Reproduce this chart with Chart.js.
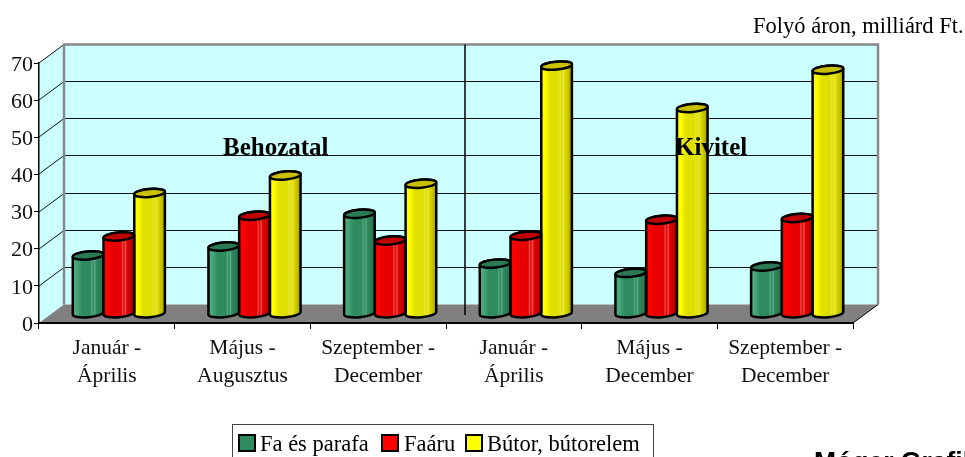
<!DOCTYPE html>
<html>
<head>
<meta charset="utf-8">
<title>Fa és bútor</title>
<script src="https://cdn.jsdelivr.net/npm/chart.js@4"></script>
<style>
html, body { margin: 0; padding: 0; background: #fff; overflow: hidden; }
#wrap { width: 965px; height: 457px; }
</style>
</head>
<body>
<div id="wrap"><canvas id="myChart" width="965" height="457"></canvas></div>
<script>
"use strict";
const categories = [
    ["Január -", "Április"],
    ["Május -", "Augusztus"],
    ["Szeptember -", "December"],
    ["Január -", "Április"],
    ["Május -", "December"],
    ["Szeptember -", "December"]
];
const faParafa = [15.7, 18.1, 26.9, 13.5, 11, 12.7];
const faaru = [20.8, 26.4, 19.7, 21, 25.3, 25.8];
const butor = [32.5, 37.2, 35, 66.8, 55.4, 65.7];
const seriesNames = ["Fa és parafa", "Faáru", "Bútor, bútorelem"];
const barColors = ["#2e8b5f", "#ff0000", "#ffff00"];
const yTicks = [0, 10, 20, 30, 40, 50, 60, 70];

const SERIF = '"Liberation Serif", "Times New Roman", serif';
// depth of the fake 3D box, in pixels
const DX = 25;
const DY = -18.5;

// stops for the banded look of the cylinders
const shades = {
    "#2e8b5f": { left: "#4aa87c", mid: "#2e8b5f", streak: "#5aa983", right: "#2a6a4c", cap: "#2b7a55" },
    "#ff0000": { left: "#ff0000", mid: "#e80000", streak: "#e85050", right: "#a80000", cap: "#c00000" },
    "#ffff00": { left: "#ffff00", mid: "#e0e000", streak: "#e6e640", right: "#a8a000", cap: "#c8c000" }
};

function drawCylinder(ctx, x, top, base, w, color) {
    const rx = w / 2;
    const ry = 4;
    const rot = -0.09;
    const s = shades[color];
    const g = ctx.createLinearGradient(x - rx, 0, x + rx, 0);
    g.addColorStop(0, s.left);
    g.addColorStop(0.12, s.left);
    g.addColorStop(0.3, s.mid);
    g.addColorStop(0.58, s.mid);
    g.addColorStop(0.62, s.streak);
    g.addColorStop(0.66, s.mid);
    g.addColorStop(0.72, s.streak);
    g.addColorStop(0.76, s.mid);
    g.addColorStop(1, s.right);
    ctx.beginPath();
    ctx.ellipse(x, base, rx, ry, rot, 0, Math.PI);
    ctx.ellipse(x, top, rx, ry, rot, Math.PI, Math.PI * 2);
    ctx.closePath();
    ctx.fillStyle = g;
    ctx.fill();
    ctx.lineWidth = 2.5;
    ctx.strokeStyle = "#000";
    ctx.stroke();
    ctx.beginPath();
    ctx.ellipse(x, top, rx, ry, rot, 0, Math.PI * 2);
    ctx.fillStyle = s.cap;
    ctx.fill();
    ctx.stroke();
}

const box3d = {
    id: "box3d",
    beforeDraw(chart) {
        const ctx = chart.ctx;
        const a = chart.chartArea;
        const y = chart.scales.y;
        ctx.save();
        // side wall
        ctx.fillStyle = "#ccffff";
        ctx.beginPath();
        ctx.moveTo(a.left, a.top);
        ctx.lineTo(a.left + DX, a.top + DY);
        ctx.lineTo(a.left + DX, a.bottom + DY);
        ctx.lineTo(a.left, a.bottom);
        ctx.closePath();
        ctx.fill();
        // back wall
        ctx.fillRect(a.left + DX, a.top + DY, a.right - a.left, a.bottom - a.top);
        // floor
        ctx.fillStyle = "#808080";
        ctx.beginPath();
        ctx.moveTo(a.left, a.bottom);
        ctx.lineTo(a.left + DX, a.bottom + DY);
        ctx.lineTo(a.right + DX, a.bottom + DY);
        ctx.lineTo(a.right, a.bottom);
        ctx.closePath();
        ctx.fill();
        // grid lines, round the corner of the box
        ctx.strokeStyle = "#111";
        ctx.lineWidth = 1;
        yTicks.forEach((t) => {
            if (t === 0) return;
            const py = Math.round(y.getPixelForValue(t));
            ctx.beginPath();
            ctx.moveTo(a.left, py);
            ctx.lineTo(a.left + DX, py + DY);
            if (t < 70) ctx.lineTo(a.right + DX, py + DY);
            ctx.stroke();
        });
        // grey frame of the back wall
        ctx.strokeStyle = "#888";
        ctx.lineWidth = 2.5;
        ctx.beginPath();
        ctx.moveTo(a.left + DX, a.bottom + DY);
        ctx.lineTo(a.left + DX, a.top + DY);
        ctx.lineTo(a.right + DX, a.top + DY);
        ctx.lineTo(a.right + DX, a.bottom + DY);
        ctx.stroke();
        // right edge of the floor
        ctx.strokeStyle = "#000";
        ctx.lineWidth = 1;
        ctx.beginPath();
        ctx.moveTo(a.right, a.bottom);
        ctx.lineTo(a.right + DX, a.bottom + DY);
        ctx.stroke();
        // Behozatal / Kivitel divider
        ctx.lineWidth = 1.5;
        ctx.beginPath();
        ctx.moveTo(465, a.top + DY);
        ctx.lineTo(465, 315);
        ctx.stroke();
        ctx.restore();
    },
    beforeDatasetDraw(chart, args) {
        const ctx = chart.ctx;
        const color = chart.data.datasets[args.index].backgroundColor;
        ctx.save();
        args.meta.data.forEach((bar) => {
            drawCylinder(ctx, bar.x + 12, bar.y + DY / 2, bar.base + DY / 2, bar.width, color);
        });
        ctx.restore();
        return false;
    },
    afterDraw(chart) {
        const ctx = chart.ctx;
        ctx.save();
        ctx.textBaseline = "alphabetic";
        ctx.fillStyle = "#000";
        ctx.font = "22.5px " + SERIF;
        ctx.fillText("Folyó áron, milliárd Ft.", 753, 33);
        ctx.font = "bold 25px " + SERIF;
        ctx.fillText("Behozatal", 223, 155);
        ctx.fillText("Kivitel", 675, 155);
        // legend, clipped by the bottom of the picture as in the original
        ctx.strokeStyle = "#444";
        ctx.lineWidth = 1;
        ctx.strokeRect(232.5, 424.5, 421, 40);
        const swatchX = [239, 382, 466];
        const textX = [260, 404, 487];
        ctx.font = "22.5px " + SERIF;
        seriesNames.forEach((name, i) => {
            ctx.fillStyle = barColors[i];
            ctx.fillRect(swatchX[i], 435, 16, 16);
            ctx.strokeStyle = "#000";
            ctx.lineWidth = 2;
            ctx.strokeRect(swatchX[i], 435, 16, 16);
            ctx.fillStyle = "#000";
            ctx.fillText(name, textX[i], 451);
        });
        // watermark, only its top is visible
        ctx.font = 'bold 26.5px "Liberation Sans", Arial, sans-serif';
        ctx.fillText("Móger Grafika", 814, 470);
        ctx.restore();
    }
};

new Chart("myChart", {
    type: "bar",
    data: {
        labels: categories,
        datasets: [
            { label: seriesNames[0], data: faParafa, backgroundColor: barColors[0] },
            { label: seriesNames[1], data: faaru, backgroundColor: barColors[1] },
            { label: seriesNames[2], data: butor, backgroundColor: barColors[2] }
        ]
    },
    plugins: [box3d],
    options: {
        responsive: false,
        animation: false,
        layout: { padding: { left: 0, right: 112, top: 63, bottom: 0 } },
        plugins: { legend: { display: false }, tooltip: { enabled: false } },
        datasets: { bar: { categoryPercentage: 0.68, barPercentage: 1 } },
        scales: {
            x: {
                afterFit(scale) { scale.height = 134; },
                grid: { drawOnChartArea: false, tickLength: 6, tickColor: "#000", tickWidth: 1 },
                border: { color: "#000", width: 2 },
                ticks: {
                    color: "#111",
                    maxRotation: 0,
                    autoSkip: false,
                    padding: 5,
                    font: { family: SERIF, size: 21.5, lineHeight: 1.3 }
                }
            },
            y: {
                min: 0,
                max: 70,
                afterFit(scale) { scale.width = 39; },
                afterBuildTicks(scale) { scale.ticks = yTicks.map((v) => ({ value: v })); },
                grid: { drawOnChartArea: false, tickLength: 5, tickColor: "#000", tickWidth: 1 },
                border: { color: "#000", width: 1.5 },
                ticks: {
                    color: "#111",
                    padding: 1,
                    // empty first line nudges the numbers down to sit on their ticks
                    callback: (v) => ["", String(v)],
                    font: { family: SERIF, size: 22, lineHeight: "4px" }
                }
            }
        }
    }
});
</script>
</body>
</html>
